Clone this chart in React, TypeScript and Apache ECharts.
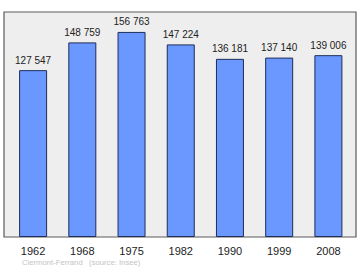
import React, { useEffect, useRef } from "react";
import * as echarts from "echarts";

const years = ["1962", "1968", "1975", "1982", "1990", "1999", "2008"];
const population = [127547, 148759, 156763, 147224, 136181, 137140, 139006];
const footer = "Clermont-Ferrand   (source: Insee)";

const fmt = (v: number) => {
  const s = String(v);
  return s.replace(/\B(?=(\d{3})+(?!\d))/g, " ");
};

export default function App() {
  const ref = useRef<HTMLDivElement>(null);
  useEffect(() => {
    if (!ref.current) return;
    const chart = echarts.init(ref.current, undefined, { renderer: "svg" });
    chart.setOption({
      animation: false,
      textStyle: { fontFamily: "Liberation Sans, Arial, sans-serif" },
      graphic: [
        {
          type: "rect",
          z: -10,
          shape: { x: 4, y: 12, width: 352, height: 225 },
          style: { fill: "#eeeeee", stroke: "#5a5a5a", lineWidth: 1.2 },
        },
        {
          type: "text",
          left: 22,
          top: 258,
          style: {
            text: footer,
            fill: "#c4c4c4",
            font: "7.7px Liberation Sans, Arial, sans-serif",
          },
        },
      ],
      grid: { left: 8.5, right: 7, top: 12, bottom: 33 },
      xAxis: {
        type: "category",
        data: years,
        axisLine: { show: false },
        axisTick: { show: false },
        axisLabel: {
          color: "#222",
          fontSize: 11,
          margin: 8,
          fontFamily: "Liberation Sans, Arial, sans-serif",
        },
      },
      yAxis: {
        type: "value",
        min: 0,
        max: 172000,
        show: false,
        splitLine: { show: false },
      },
      series: [
        {
          type: "bar",
          data: population,
          barWidth: 28,
          itemStyle: {
            color: "#6b98ff",
            borderColor: "#1e2d5a",
            borderWidth: 1,
          },
          label: {
            show: true,
            position: "top",
            distance: 5,
            color: "#222",
            fontSize: 10,
            fontFamily: "Liberation Sans, Arial, sans-serif",
            formatter: (p: any) => fmt(p.value),
          },
        },
      ],
    });
    return () => chart.dispose();
  }, []);
  return <div ref={ref} style={{ width: 360, height: 270, position: "absolute", left: 0, top: 0 }} />;
}
